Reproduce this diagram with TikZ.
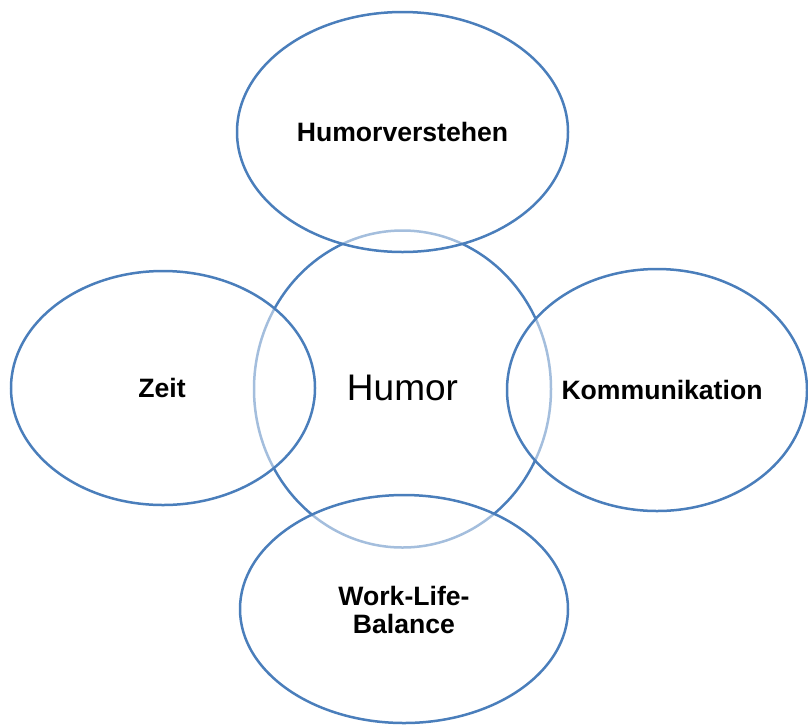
\documentclass[tikz,border=0pt]{standalone}
\usepackage{fontspec}
\setmainfont{Liberation Sans}
\usetikzlibrary{shapes.geometric}
\definecolor{ringblue}{HTML}{4A7EBB}
\tikzset{
  ring/.style={ellipse, draw=ringblue, line width=2.5pt, inner sep=0pt},
  outerring/.style={ring, fill=white, fill opacity=0.5},
  lbl/.style={font=\fontsize{26.6}{28}\selectfont\bfseries, text=black, inner sep=0pt, align=center},
  centerlbl/.style={font=\fontsize{37}{40}\selectfont, text=black, inner sep=0pt}
}
\begin{document}
\begin{tikzpicture}[x=1pt,y=-1pt]
\useasboundingbox (0,0) rectangle (808,724);
% central circle
\node[ring, minimum width=297pt, minimum height=317pt] (humorring) at (402.5,389) {};
% outer ellipses
\node[outerring, minimum width=331pt, minimum height=240pt] (topring) at (402.5,132) {};
\node[outerring, minimum width=304pt, minimum height=234pt] (leftring) at (163,388) {};
\node[outerring, minimum width=300pt, minimum height=242pt] (rightring) at (657,390) {};
\node[outerring, minimum width=328pt, minimum height=228pt] (bottomring) at (404,609) {};
% labels
\node[centerlbl] (humor) at (402.5,387.5) {Humor};
\node[lbl] (hv) at (402.5,132) {Humorverstehen};
\node[lbl] (zeit) at (162,387.5) {Zeit};
\node[lbl] (komm) at (662,389.5) {Kommunikation};
\node[lbl] (wlb) at (404,610) {Work-Life-\\Balance};
\end{tikzpicture}
\end{document}
